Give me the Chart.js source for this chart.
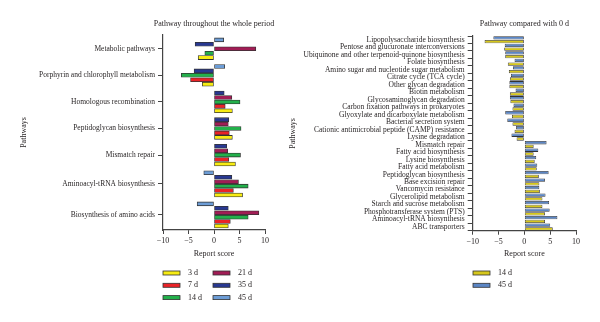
<!DOCTYPE html>
<html>
<head>
<meta charset="utf-8">
<script src="https://cdn.jsdelivr.net/npm/chart.js@4.4.1/dist/chart.umd.min.js"></script>
<style>
  body { margin: 0; background: #fff; }
  #wrap { position: relative; width: 600px; height: 322px; overflow: hidden; }
  canvas { position: absolute; top: 0; }
  #graficoEsq { left: 0; }
  #graficoDir { left: 280px; }
</style>
</head>
<body>
<div id="wrap">
  <canvas id="graficoEsq" width="300" height="322"></canvas>
  <canvas id="graficoDir" width="320" height="322"></canvas>
</div>
<script>
// vias ao longo de todo o periodo (painel esquerdo)
const vias = [
  'Metabolic pathways',
  'Porphyrin and chlorophyll metabolism',
  'Homologous recombination',
  'Peptidoglycan biosynthesis',
  'Mismatch repair',
  'Aminoacyl-tRNA biosynthesis',
  'Biosynthesis of amino acids'
];
const dia3  = [-3.1, -2.3, 3.6, 3.6, 4.2, 5.6, 2.8];
const dia7  = [null, -4.6, 2.2, 3.0, 2.9, 3.8, 3.2];
const dia14 = [-1.8, -6.4, 5.1, 5.3, 5.2, 6.7, 6.7];
const dia21 = [8.2, null, 3.5, 2.8, 2.7, 4.8, 8.8];
const dia35 = [-3.7, -3.9, 2.0, 2.9, 2.5, 3.5, 2.8];
const dia45 = [1.9, 2.1, null, null, null, -2.0, -3.3];

// vias comparadas com 0 d (painel direito)
const viasComp = [
  'Lipopolysaccharide biosynthesis',
  'Pentose and glucuronate interconversions',
  'Ubiquinone and other terpenoid-quinone biosynthesis',
  'Folate biosynthesis',
  'Amino sugar and nucleotide sugar metabolism',
  'Citrate cycle (TCA cycle)',
  'Other glycan degradation',
  'Biotin metabolism',
  'Glycosaminoglycan degradation',
  'Carbon fixation pathways in prokaryotes',
  'Glyoxylate and dicarboxylate metabolism',
  'Bacterial secretion system',
  'Cationic antimicrobial peptide (CAMP) resistance',
  'Lysine degradation',
  'Mismatch repair',
  'Fatty acid biosynthesis',
  'Lysine biosynthesis',
  'Fatty acid metabolism',
  'Peptidoglycan biosynthesis',
  'Base excision repair',
  'Vancomycin resistance',
  'Glycerolipid metabolism',
  'Starch and sucrose metabolism',
  'Phosphotransferase system (PTS)',
  'Aminoacyl-tRNA biosynthesis',
  'ABC transporters'
];
const comp14 = [-7.7, -3.9, -3.7, -3.2, -3.0, -2.8, -2.9, -2.8, -2.7, -2.3, -2.4, -2.3, -1.9,
                -1.5, 1.8, 1.8, 2.0, 2.4, 2.8, 2.9, 3.0, 3.5, 3.5, 4.0, 4.0, 5.5];
const comp45 = [-6.0, -3.8, -3.7, -1.9, -2.2, -2.6, -2.9, -1.7, -2.8, -2.1, -3.7, -3.3, -1.6,
                -2.5, 4.3, 2.7, 2.3, 2.5, 4.7, 4.0, 2.9, 4.1, 4.8, 4.9, 6.4, 5.0];

const ticksX = [-10, -5, 0, 5, 10];

const FONTE = "'Liberation Serif', serif";
const TEXTO = '#231f20';
Chart.defaults.font.family = FONTE;
Chart.defaults.font.size = 8;
Chart.defaults.color = TEXTO;

const series = [
  { label: '3 d',  dados: dia3,  cor: '#f7ec13' },
  { label: '7 d',  dados: dia7,  cor: '#ea2227' },
  { label: '14 d', dados: dia14, cor: '#23b04b' },
  { label: '21 d', dados: dia21, cor: '#a11d55' },
  { label: '35 d', dados: dia35, cor: '#283891' },
  { label: '45 d', dados: dia45, cor: '#6d9dd6' }
];
const seriesComp = [
  { label: '14 d', dados: comp14, cor: '#d6c71c' },
  { label: '45 d', dados: comp45, cor: '#5b86c5' }
];

// titulo centrado sobre a area do grafico + legenda em colunas
const extras = {
  id: 'extras',
  afterDraw(chart, args, opts) {
    const { ctx, chartArea } = chart;
    ctx.save();
    ctx.font = '8px ' + FONTE;
    ctx.fillStyle = TEXTO;
    ctx.textAlign = 'center';
    ctx.textBaseline = 'middle';
    ctx.fillText(opts.titulo, (chartArea.left + chartArea.right) / 2, 24);

    ctx.textAlign = 'left';
    ctx.lineWidth = 0.8;
    ctx.strokeStyle = '#333';
    opts.itens.forEach((s, k) => {
      const col = Math.floor(k / opts.porColuna), lin = k % opts.porColuna;
      const x = opts.x + col * 50, y = opts.y + lin * 12.3;
      ctx.fillStyle = s.cor;
      ctx.fillRect(x, y - 2, 17, 4);
      ctx.strokeRect(x, y - 2, 17, 4);
      ctx.fillStyle = TEXTO;
      ctx.fillText(s.label, x + 25, y);
    });
    ctx.restore();
  }
};

function eixoX(altura) {
  return {
    type: 'linear',
    min: -10, max: 10,
    afterFit: s => { s.height = altura; },
    afterBuildTicks: s => { s.ticks = ticksX.map(v => ({ value: v })); },
    ticks: { padding: 2, callback: v => v < 0 ? '\u2212' + Math.abs(v) : v },
    grid: { drawOnChartArea: false, tickLength: 4, color: '#444', tickWidth: 1 },
    border: { color: '#444', width: 1.2 },
    title: { display: true, text: 'Report score', padding: { top: 4, bottom: 4 } }
  };
}

// posicao de cada grupo: barras sem valor nao ocupam espaco
const contagem = vias.map((_, i) => series.filter(s => s.dados[i] !== null).length);
let slot = 0.6;
const centros = contagem.map(n => {
  const c = slot + n / 2;
  slot += n + 1;
  return c;
});
const fimEixo = slot - 0.6;

// de cima para baixo: 45 d ... 3 d
const dsEsq = series.slice().reverse().map(s => ({
  label: s.label,
  data: s.dados.map((v, i) => ({ x: v, y: centros[i] })),
  backgroundColor: s.cor,
  borderColor: '#333',
  borderWidth: 0.8,
  borderSkipped: false
}));

new Chart(document.getElementById('graficoEsq'), {
  type: 'bar',
  data: { datasets: dsEsq },
  options: {
    responsive: false,
    animation: false,
    indexAxis: 'y',
    skipNull: true,
    barThickness: 4.43,
    maxBarThickness: 3.9,
    layout: { padding: { left: 15, right: 35, top: 35, bottom: 59 } },
    plugins: {
      legend: { display: false },
      tooltip: { enabled: false },
      extras: { titulo: 'Pathway throughout the whole period', itens: series, x: 163, y: 273, porColuna: 3 }
    },
    scales: {
      x: eixoX(33),
      y: {
        type: 'linear',
        reverse: true,
        offset: false,
        min: 0, max: fimEixo,
        afterFit: s => { s.width = 148; },
        afterBuildTicks: s => { s.ticks = centros.map(v => ({ value: v })); },
        ticks: { padding: 3, autoSkip: false, font: { size: 7.5 }, callback: (v, i) => vias[i] },
        grid: { offset: false, drawOnChartArea: false, tickLength: 5, color: '#444', tickWidth: 1 },
        border: { color: '#444', width: 1.2 },
        title: { display: true, text: 'Pathways', padding: { top: 4, bottom: 4 } }
      }
    }
  },
  plugins: [extras]
});

new Chart(document.getElementById('graficoDir'), {
  type: 'bar',
  data: {
    labels: viasComp,
    datasets: seriesComp.slice().reverse().map(s => ({
      label: s.label,
      data: s.dados,
      backgroundColor: s.cor,
      borderColor: '#333',
      borderWidth: 0.8,
      borderSkipped: false
    }))
  },
  options: {
    responsive: false,
    animation: false,
    indexAxis: 'y',
    categoryPercentage: 1,
    barPercentage: 0.9,
    layout: { padding: { left: 4, right: 24, top: 36, bottom: 59 } },
    plugins: {
      legend: { display: false },
      tooltip: { enabled: false },
      extras: { titulo: 'Pathway compared with 0 d', itens: seriesComp, x: 193, y: 273, porColuna: 2 }
    },
    scales: {
      x: eixoX(32.3),
      y: {
        afterFit: s => { s.width = 188.7; },
        ticks: { padding: 3, autoSkip: false, font: { size: 7.5 } },
        grid: { drawOnChartArea: false, tickLength: 5, color: '#444', tickWidth: 1 },
        border: { color: '#444', width: 1.2 },
        title: { display: true, text: 'Pathways', padding: { top: 4, bottom: 4 } }
      }
    }
  },
  plugins: [extras]
});
</script>
</body>
</html>
